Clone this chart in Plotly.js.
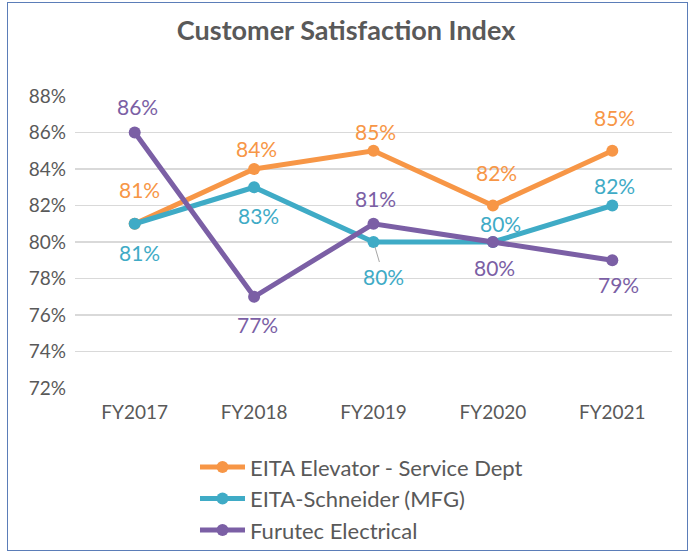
<!DOCTYPE html>
<html>
<head>
<meta charset="utf-8">
<script src="https://cdn.plot.ly/plotly-3.0.1.min.js"></script>
<style>
  html, body { margin: 0; padding: 0; background: #ffffff; }
  #wrap { position: relative; width: 688px; height: 553px; }
  #chart { position: absolute; left: 0; top: 0; width: 688px; height: 553px; }
  #frame { position: absolute; left: 7px; top: 2px; width: 679px; height: 547px;
           border: 1px solid #5B7DB8; pointer-events: none; }
</style>
</head>
<body>
<div id="wrap">
  <div id="chart"></div>
  <div id="frame"></div>
</div>
<script>
// ---- data ----
const categories = ["FY2017", "FY2018", "FY2019", "FY2020", "FY2021"];
const seriesNames = ["EITA Elevator - Service Dept", "EITA-Schneider (MFG)", "Furutec Electrical"];
const elevator  = [0.81, 0.84, 0.85, 0.82, 0.85];
const schneider = [0.81, 0.83, 0.80, 0.80, 0.82];
const furutec   = [0.86, 0.77, 0.81, 0.80, 0.79];
const yTickVals = [0.72, 0.74, 0.76, 0.78, 0.80, 0.82, 0.84, 0.86, 0.88];

// ---- styling ----
const colors = ["#F79646", "#3FABC6", "#7B5FA5"];
const allSeries = [elevator, schneider, furutec];
// label pixel offsets [xshift, yshift] per point (positioning only)
const labelOffsets = [
  [[5, 34], [2, 21], [2, 19], [4, 33], [2, 33]],
  [[5, -29], [4, -28], [10, -34], [8, 19], [2, 20]],
  [[3, 26], [3, -28], [2, 25], [2, -25], [6, -24]]
];
const FONT = "Lato, 'Open Sans', sans-serif";
const TXT = "#595959";

const traces = allSeries.map((vals, i) => ({
  type: "scatter",
  mode: "lines+markers",
  x: categories,
  y: vals,
  name: seriesNames[i],
  legendgroup: "g" + i,
  line: { color: colors[i], width: 5 },
  marker: { color: colors[i], size: 12 },
  hoverinfo: "skip",
  cliponaxis: false
}));

const annotations = [];
allSeries.forEach((vals, i) => {
  vals.forEach((v, j) => {
    const off = labelOffsets[i][j];
    const withLeader = (i === 1 && j === 2);
    const a = {
      x: categories[j], y: v, xref: "x", yref: "y",
      text: Math.round(v * 100) + "%",
      font: { family: FONT, size: 21, color: colors[i] },
      xanchor: "center", yanchor: "middle"
    };
    if (withLeader) {
      a.showarrow = true; a.arrowhead = 0; a.arrowwidth = 1;
      a.arrowcolor = "#A6A6A6"; a.ax = off[0]; a.ay = -off[1]; a.standoff = 5;
    } else {
      a.showarrow = false; a.xshift = off[0]; a.yshift = off[1];
    }
    annotations.push(a);
  });
});

const layout = {
  width: 688, height: 553,
  margin: { l: 75, r: 16, t: 96, b: 165, autoexpand: false },
  paper_bgcolor: "#ffffff", plot_bgcolor: "#ffffff",
  font: { family: FONT, color: TXT },
  title: { text: "<b>Customer Satisfaction Index</b>", x: 0.503, xref: "container", xanchor: "center",
           y: 0.945, yanchor: "middle",
           font: { family: FONT, size: 27, color: TXT } },
  xaxis: {
    type: "category", range: [-0.5, 4.5],
    showgrid: false, zeroline: false, showline: false, ticks: "",
    tickfont: { family: FONT, size: 19, color: TXT }, ticklabelstandoff: 11
  },
  yaxis: {
    range: [0.72, 0.88], tickvals: yTickVals, tickformat: ".0%",
    showgrid: true, gridcolor: "#D9D9D9", gridwidth: 1.5, zeroline: false, showline: false, ticks: "",
    tickfont: { family: FONT, size: 19, color: TXT }, ticklabelstandoff: 8
  },
  showlegend: true,
  legend: {
    orientation: "v", x: 0.201, xanchor: "left", y: -0.199, yanchor: "top",
    font: { family: FONT, size: 22, color: TXT }, tracegroupgap: 0, itemwidth: 45,
    bgcolor: "rgba(0,0,0,0)"
  },
  annotations: annotations
};

Plotly.newPlot("chart", traces, layout, { displayModeBar: false, staticPlot: true });
</script>
</body>
</html>
